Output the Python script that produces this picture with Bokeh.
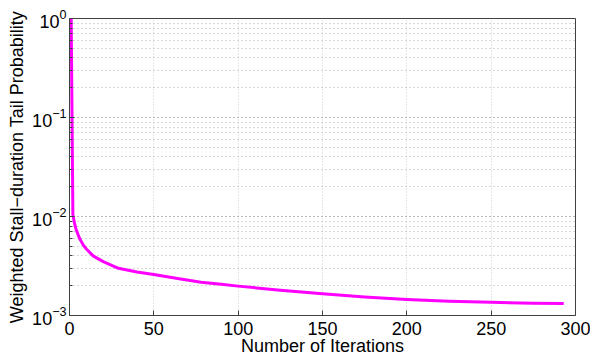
from bokeh.plotting import figure
from bokeh.models import Range1d, FixedTicker, LogTicker
from bokeh.embed import file_html
from bokeh.resources import INLINE

iterations = [1, 2, 3, 4, 6, 8, 10, 14, 20, 29, 40, 50, 65, 78, 90, 100,
              125, 150, 175, 200, 225, 250, 275, 293]
tail_prob = [1.0, 0.0105, 0.0085, 0.0073, 0.0060, 0.0052, 0.0047, 0.0040, 0.0035, 0.0030,
             0.00275, 0.00259, 0.00235, 0.00217, 0.00207, 0.00198,
             0.00180, 0.00166, 0.00154, 0.00145, 0.00139, 0.00136, 0.00133, 0.00132]
x_ticks = [0, 50, 100, 150, 200, 250, 300]
x_grid_ticks = [50, 100, 150, 200, 250]

FONT = "Liberation Sans"
AX = "#404040"

p = figure(frame_width=506, frame_height=297, output_backend="svg", toolbar_location=None,
           y_axis_type="log", x_range=Range1d(0, 300), y_range=Range1d(1e-3, 1),
           min_border_left=69, min_border_right=15, min_border_top=18, min_border_bottom=40)
p.outline_line_color = AX
p.outline_line_width = 1
p.background_fill_color = "white"
p.border_fill_color = "white"

p.line(iterations, tail_prob, line_color="#ff00ff", line_width=3, line_join="round")

# grids
p.xgrid.ticker = FixedTicker(ticks=x_grid_ticks)
p.xgrid.grid_line_color = "#cccccc"
p.xgrid.grid_line_dash = "1 2"
p.ygrid.grid_line_color = "#b0b0b0"
p.ygrid.grid_line_dash = "1 3"
p.ygrid.minor_grid_line_color = "#b0b0b0"
p.ygrid.minor_grid_line_dash = "1 3"

def style(ax):
    ax.axis_line_color = AX
    ax.major_tick_line_color = AX
    ax.minor_tick_line_color = AX
    ax.major_tick_in = 5
    ax.major_tick_out = 0
    ax.minor_tick_in = 3
    ax.minor_tick_out = 0
    ax.major_label_text_font = FONT
    ax.major_label_text_font_size = "18px"
    ax.major_label_text_color = "black"
    ax.axis_label_text_font = FONT
    ax.axis_label_text_font_size = "18px"
    ax.axis_label_text_font_style = "normal"
    ax.axis_label_text_color = "black"

xa = p.xaxis[0]
xa.ticker = FixedTicker(ticks=x_ticks)
xa.axis_label = "Number of Iterations"
xa.axis_label_standoff = -2
xa.major_label_standoff = 6
style(xa)
xa.minor_tick_in = 0

ya = p.yaxis[0]
ya.ticker = LogTicker(num_minor_ticks=10)
ya.axis_label = "Weighted Stall\u2212duration Tail Probability"
ya.axis_label_standoff = 2
ya.major_label_standoff = 3
style(ya)

open("out.html", "w").write(file_html(p, INLINE))
